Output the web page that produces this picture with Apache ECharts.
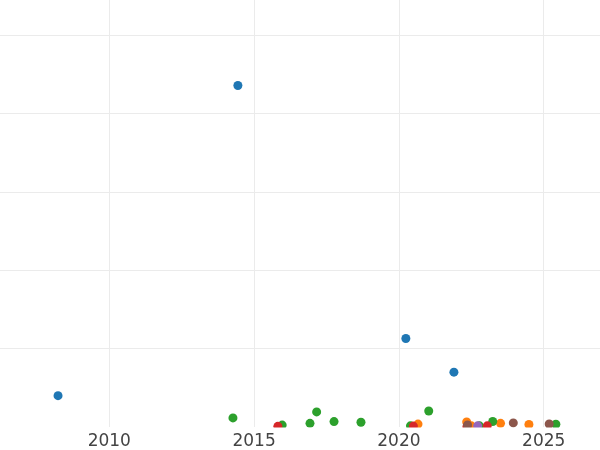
<!DOCTYPE html>
<html>
<head>
<meta charset="utf-8">
<script src="https://cdn.jsdelivr.net/npm/echarts@6/dist/echarts.min.js"></script>
<style>html,body{margin:0;padding:0;background:#fff;}#c{width:600px;height:450px;}</style>
</head>
<body>
<div id="c"></div>
<script>
// [year, value]
const blueData = [[2008.23, 40], [2014.44, 436], [2020.24, 113], [2021.90, 70]];
const orangeData = [[2020.66, 3.7], [2022.34, 6.5], [2022.50, 1.5], [2023.51, 4.7], [2024.49, 3.2]];
const greenData = [[2014.27, 11.6], [2015.97, 2.4], [2016.93, 4.7], [2017.16, 19.3], [2017.76, 6.9], [2018.69, 6], [2020.40, 1.5], [2021.03, 20.5], [2022.78, 1.5], [2023.24, 7], [2025.42, 3.5]];
const redData = [[2015.82, 0.8], [2020.50, 1.2], [2022.35, 0.3], [2023.05, 1.5]];
const purpleData = [[2022.72, 1.5]];
const brownData = [[2022.37, 2.5], [2023.95, 5.2], [2025.19, 3.8]];

const seriesList = [
  {name: 'blue', data: blueData, color: '#1f77b4'},
  {name: 'orange', data: orangeData, color: '#ff7f0e'},
  {name: 'green', data: greenData, color: '#2ca02c'},
  {name: 'red', data: redData, color: '#d62728'},
  {name: 'purple', data: purpleData, color: '#9467bd'},
  {name: 'brown', data: brownData, color: '#8c564b'}
];

const chart = echarts.init(document.getElementById('c'), null, {renderer: 'canvas'});
chart.setOption({
  animation: false,
  backgroundColor: '#ffffff',
  grid: {left: 0, right: 0, top: 0, bottom: 22.6, containLabel: false},
  graphic: [{
    type: 'rect',
    left: 0, bottom: 0,
    shape: {width: 600, height: 22.6},
    style: {fill: '#ffffff'},
    z: 50,
    silent: true
  }],
  xAxis: {
    type: 'value',
    z: 100,
    min: 2006.226,
    max: 2026.944,
    axisLine: {show: false},
    axisTick: {show: false},
    splitLine: {show: true, showMinLine: false, showMaxLine: false, lineStyle: {color: '#ebebeb', width: 1}},
    axisLabel: {
      color: '#444444', fontSize: 17, fontFamily: 'DejaVu Sans', margin: 6,
      showMinLabel: false, showMaxLabel: false,
      formatter: v => (Math.abs(v % 5) < 1e-6 ? String(Math.round(v)) : '')
    }
  },
  yAxis: {
    type: 'value',
    min: 0,
    max: 545.2,
    interval: 100,
    axisLine: {show: false},
    axisTick: {show: false},
    axisLabel: {show: false},
    splitLine: {show: true, showMinLine: false, showMaxLine: false, lineStyle: {color: '#ebebeb', width: 1}}
  },
  series: seriesList.map(s => ({
    type: 'scatter',
    name: s.name,
    data: s.data,
    symbol: 'circle',
    symbolSize: 9,
    itemStyle: {color: s.color, opacity: 1},
    clip: true
  }))
});
</script>
</body>
</html>
